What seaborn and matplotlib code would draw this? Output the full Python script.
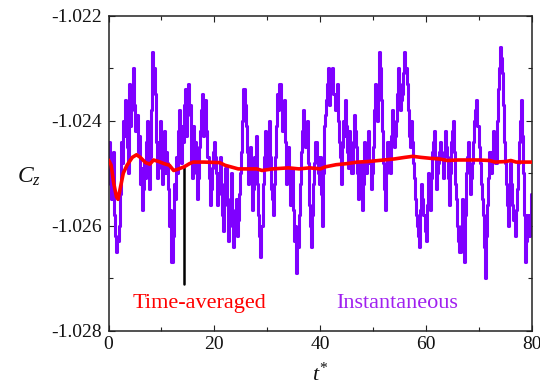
import numpy as np
import matplotlib
matplotlib.use("Agg")
import matplotlib.pyplot as plt
from matplotlib.ticker import MultipleLocator, FormatStrFormatter
import seaborn as sns
import pandas as pd

# ---- data ----
# instantaneous Cz, sampled every 0.2 time units from t* = 0 to 80
cz_inst = [
    -1.0247, -1.0244, -1.0252, -1.0255, -1.0250, -1.0246, -1.0258, -1.0262, -1.0265, -1.0263,
    -1.0260, -1.0254, -1.0244, -1.0248, -1.0240, -1.0243, -1.0236, -1.0240, -1.0245, -1.0250,
    -1.0233, -1.0241, -1.0238, -1.0235, -1.0230, -1.0237, -1.0242, -1.0239, -1.0246, -1.0243,
    -1.0252, -1.0249, -1.0257, -1.0253, -1.0248, -1.0251, -1.0244, -1.0240, -1.0250, -1.0253,
    -1.0247, -1.0238, -1.0227, -1.0230, -1.0235, -1.0244, -1.0251, -1.0247, -1.0244, -1.0240,
    -1.0249, -1.0252, -1.0245, -1.0242, -1.0250, -1.0246, -1.0248, -1.0253, -1.0260, -1.0257,
    -1.0267, -1.0262, -1.0252, -1.0255, -1.0247, -1.0250, -1.0242, -1.0238, -1.0245, -1.0248,
    -1.0241, -1.0244, -1.0237, -1.0234, -1.0243, -1.0239, -1.0233, -1.0237, -1.0248, -1.0251,
    -1.0241, -1.0246, -1.0244, -1.0250, -1.0255, -1.0251, -1.0245, -1.0242, -1.0238, -1.0235,
    -1.0243, -1.0240, -1.0236, -1.0242, -1.0247, -1.0251, -1.0256, -1.0253, -1.0249, -1.0246,
    -1.0244, -1.0247, -1.0250, -1.0256, -1.0253, -1.0250, -1.0247, -1.0254, -1.0258, -1.0261,
    -1.0252, -1.0249, -1.0256, -1.0263, -1.0260, -1.0255, -1.0250, -1.0257, -1.0264, -1.0261,
    -1.0258, -1.0255, -1.0262, -1.0259, -1.0254, -1.0250, -1.0246, -1.0240, -1.0234, -1.0237,
    -1.0241, -1.0246, -1.0252, -1.0249, -1.0245, -1.0251, -1.0257, -1.0253, -1.0247, -1.0250,
    -1.0243, -1.0252, -1.0258, -1.0262, -1.0266, -1.0260, -1.0252, -1.0247, -1.0242, -1.0245,
    -1.0249, -1.0244, -1.0240, -1.0247, -1.0253, -1.0255, -1.0258, -1.0252, -1.0247, -1.0241,
    -1.0235, -1.0238, -1.0233, -1.0237, -1.0242, -1.0239, -1.0236, -1.0244, -1.0252, -1.0248,
    -1.0245, -1.0250, -1.0256, -1.0253, -1.0249, -1.0257, -1.0263, -1.0260, -1.0269, -1.0264,
    -1.0258, -1.0252, -1.0246, -1.0242, -1.0238, -1.0241, -1.0245, -1.0243, -1.0240, -1.0248,
    -1.0256, -1.0260, -1.0264, -1.0258, -1.0252, -1.0248, -1.0244, -1.0247, -1.0250, -1.0252,
    -1.0247, -1.0254, -1.0260, -1.0250, -1.0241, -1.0239, -1.0236, -1.0233, -1.0230, -1.0237,
    -1.0234, -1.0232, -1.0230, -1.0235, -1.0238, -1.0236, -1.0233, -1.0240, -1.0244, -1.0247,
    -1.0252, -1.0245, -1.0240, -1.0243, -1.0236, -1.0241, -1.0246, -1.0249, -1.0242, -1.0245,
    -1.0250, -1.0244, -1.0239, -1.0242, -1.0245, -1.0250, -1.0255, -1.0252, -1.0248, -1.0251,
    -1.0257, -1.0252, -1.0244, -1.0247, -1.0250, -1.0246, -1.0242, -1.0248, -1.0253, -1.0250,
    -1.0245, -1.0238, -1.0233, -1.0236, -1.0240, -1.0234, -1.0227, -1.0230, -1.0236, -1.0242,
    -1.0248, -1.0253, -1.0257, -1.0250, -1.0244, -1.0247, -1.0250, -1.0243, -1.0238, -1.0241,
    -1.0245, -1.0243, -1.0240, -1.0235, -1.0230, -1.0233, -1.0238, -1.0236, -1.0235, -1.0231,
    -1.0227, -1.0230, -1.0233, -1.0238, -1.0243, -1.0245, -1.0240, -1.0244, -1.0248, -1.0251,
    -1.0255, -1.0258, -1.0260, -1.0262, -1.0264, -1.0257, -1.0252, -1.0255, -1.0258, -1.0261,
    -1.0263, -1.0256, -1.0250, -1.0253, -1.0257, -1.0251, -1.0246, -1.0244, -1.0242, -1.0247,
    -1.0253, -1.0250, -1.0248, -1.0246, -1.0244, -1.0247, -1.0251, -1.0246, -1.0242, -1.0245,
    -1.0247, -1.0251, -1.0256, -1.0250, -1.0244, -1.0242, -1.0240, -1.0246, -1.0252, -1.0255,
    -1.0260, -1.0263, -1.0265, -1.0260, -1.0255, -1.0262, -1.0267, -1.0258, -1.0250, -1.0247,
    -1.0244, -1.0249, -1.0254, -1.0251, -1.0248, -1.0244, -1.0240, -1.0238, -1.0236, -1.0241,
    -1.0245, -1.0248, -1.0252, -1.0255, -1.0258, -1.0264, -1.0270, -1.0262, -1.0256, -1.0251,
    -1.0246, -1.0248, -1.0250, -1.0246, -1.0242, -1.0245, -1.0248, -1.0240, -1.0234, -1.0230,
    -1.0226, -1.0228, -1.0231, -1.0237, -1.0244, -1.0248, -1.0252, -1.0256, -1.0260, -1.0254,
    -1.0248, -1.0252, -1.0256, -1.0259, -1.0262, -1.0257, -1.0253, -1.0248, -1.0244, -1.0240,
    -1.0236, -1.0243, -1.0250, -1.0258, -1.0267, -1.0263, -1.0258, -1.0260, -1.0262, -1.0258,
    -1.0254,
]
t_start, t_end = 0.0, 80.0

t_avg = [0, 0.5, 1, 1.5, 1.8, 2.2, 2.8, 3.5, 4.5, 5.3, 6, 7, 7.8, 8.5, 9.5, 10.5, 11.5,
         12.3, 13, 14.3, 15.3, 16, 18, 21, 22, 24.5, 28, 29, 31, 34, 36, 38, 40, 41, 43,
         45, 47, 49, 52, 54, 56, 57.5, 59, 61, 62.5, 64, 66, 70, 72, 73, 75, 76, 77, 80]
cz_avg = [-1.02475, -1.02485, -1.0252, -1.02545, -1.0255, -1.0253, -1.0250, -1.02485,
          -1.0247, -1.02465, -1.0247, -1.0248, -1.02483, -1.02475, -1.02478, -1.02482,
          -1.02485, -1.02495, -1.02493, -1.02488, -1.02482, -1.02479, -1.02479, -1.0248,
          -1.02485, -1.02492, -1.02492, -1.02495, -1.02492, -1.0249, -1.02492, -1.0249,
          -1.02492, -1.02488, -1.02484, -1.02482, -1.02479, -1.02478, -1.02475, -1.02473,
          -1.0247, -1.02468, -1.0247, -1.02472, -1.02473, -1.02476, -1.02475, -1.02475,
          -1.02476, -1.02479, -1.02478, -1.02476, -1.02479, -1.02479]

marker_t = [14.3, 14.3]
marker_cz = [-1.02488, -1.02711]

x_ticks = [0, 20, 40, 60, 80]
y_ticks = [-1.028, -1.026, -1.024, -1.022]
label_avg = "Time-averaged"
label_inst = "Instantaneous"

# ---- style ----
sns.set_theme(style="ticks")
plt.rcParams["font.family"] = ["Liberation Serif", "DejaVu Serif"]
plt.rcParams["mathtext.fontset"] = "custom"
plt.rcParams["mathtext.rm"] = "Liberation Serif"
plt.rcParams["mathtext.it"] = "Liberation Serif:italic"
plt.rcParams["axes.unicode_minus"] = False

W, H = 540, 383
fig = plt.figure(figsize=(W / 100, H / 100), dpi=100)
fig.patch.set_facecolor("white")

left, right, top, bottom = 108.5, 532, 15.7, 330.5
ax = fig.add_axes([left / W, 1 - bottom / H, (right - left) / W, (bottom - top) / H])
ax.set_facecolor("white")

df_inst = pd.DataFrame({"t": np.linspace(t_start, t_end, len(cz_inst)), "cz": cz_inst})
df_avg = pd.DataFrame({"t": t_avg, "cz": cz_avg})

sns.lineplot(data=df_inst, x="t", y="cz", ax=ax, color="#7f00ff", lw=2.2,
             drawstyle="steps-mid", estimator=None, sort=False, zorder=2)
ax.plot(marker_t, marker_cz, color="black", lw=1.8, zorder=2.5)
sns.lineplot(data=df_avg, x="t", y="cz", ax=ax, color="#ff0000", lw=2.6,
             estimator=None, sort=False, zorder=3)

ax.set_xlim(0, 80)
ax.set_ylim(-1.028, -1.022)
ax.set_xticks(x_ticks)
ax.set_yticks(y_ticks)
ax.xaxis.set_minor_locator(MultipleLocator(10))
ax.yaxis.set_minor_locator(MultipleLocator(0.001))
ax.yaxis.set_major_formatter(FormatStrFormatter("%.3f"))
ax.set_xlabel("")
ax.set_ylabel("")

ax.tick_params(which="both", direction="in", top=True, right=True, colors="#222222",
               width=0.8, labelsize=14, labelcolor="#111111")
ax.tick_params(which="major", length=4.3)
ax.tick_params(which="minor", length=2.9)
ax.tick_params(axis="x", pad=4)
ax.tick_params(axis="y", pad=5)
for s in ax.spines.values():
    s.set_color("#222222")
    s.set_linewidth(1.1)

ax.text(4.6, -1.02757, label_avg, color="#ff0000", fontsize=16, va="baseline", ha="left")
ax.text(43.0, -1.02757, label_inst, color="#a020f0", fontsize=16, va="baseline", ha="left")

fig.text(17 / W, 1 - 183 / H, r"$C_z$", fontsize=17, color="#111111", va="baseline", ha="left")
fig.text(320 / W, 1 - 381 / H, r"$t^{*}$", fontsize=16, color="#111111", va="baseline", ha="center")

fig.savefig("out.png", dpi=100)
